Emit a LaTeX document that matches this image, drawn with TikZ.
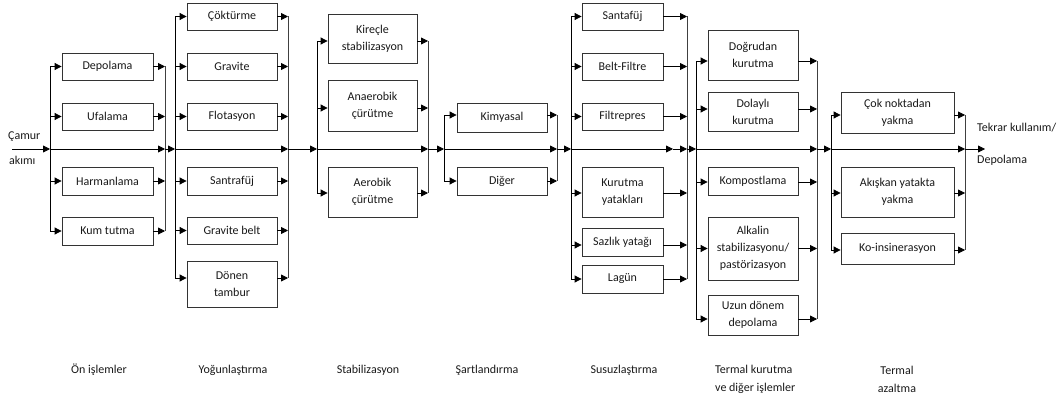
\documentclass[tikz,border=0pt]{standalone}
\usepackage{fontspec}
\setmainfont{Carlito}
\usetikzlibrary{arrows.meta}

\tikzset{
  box/.style={draw=black!80, line width=0.8pt, inner sep=1pt, align=center,
              font=\fontsize{12}{17}\selectfont, text=black!90},
  link/.style={draw=black, line width=0.8pt, -{Triangle[length=7pt,width=7pt]}},
  bar/.style={draw=black!75, line width=0.8pt},
  lbl/.style={font=\fontsize{12}{18}\selectfont, inner sep=0pt, text=black!90}
}

% \stagebox{name}{cx}{cy}{width}{height}{text}
\newcommand\stagebox[6]{\node[box, minimum width=#4pt, minimum height=#5pt] (#1) at (#2,#3) {#6};}
% \feed{split}{box}{merge}{yshift}: branch from split bar into box and on to merge bar
\newcommand\feed[4]{%
  \path ([yshift=#4pt]#2.west) coordinate (#2-i) ([yshift=#4pt]#2.east) coordinate (#2-o);
  \draw[link] (#1) |- (#2-i);
  \draw[link] (#2-o) -- (#2-o -| #3);
}

\begin{document}
\begin{tikzpicture}[x=1pt, y=-1pt]
\useasboundingbox (0,0) rectangle (1061,401);

% points on the main flow line
\coordinate (start) at (12,149);
\coordinate (s1) at (50,149);   \coordinate (m1) at (165,149);
\coordinate (s2) at (175,149);  \coordinate (m2) at (288,149);
\coordinate (s3) at (317,149);  \coordinate (m3) at (428,149);
\coordinate (s4) at (444,149);  \coordinate (m4) at (557,149);
\coordinate (s5) at (571,149);  \coordinate (k5) at (673,149);
\coordinate (m5) at (687,149);
\coordinate (s6) at (696,149);  \coordinate (m6) at (817,149);
\coordinate (s7) at (831,149);  \coordinate (m7) at (965,149);
\coordinate (finish) at (985,149);

% pre-treatment
\stagebox{dep}{107.5}{66.5}{91}{27}{Depolama}
\stagebox{ufa}{107.5}{116.5}{91}{27}{Ufalama}
\stagebox{har}{107.5}{181}{91}{28}{Harmanlama}
\stagebox{kum}{107.5}{231}{91}{28}{Kum tutma}

% thickening
\stagebox{cok}{232}{16.5}{90}{27}{Çöktürme}
\stagebox{grv}{232}{66.5}{90}{27}{Gravite}
\stagebox{flo}{232}{116.5}{90}{27}{Flotasyon}
\stagebox{snt}{232}{181}{90}{28}{Santrafüj}
\stagebox{gvb}{232}{230.5}{90}{27}{Gravite belt}
\stagebox{don}{232}{284}{90}{46}{Dönen\\tambur}

% stabilisation
\stagebox{kir}{372.5}{38.5}{89}{49}{Kireçle\\stabilizasyon}
\stagebox{ana}{372.5}{105.5}{89}{51}{Anaerobik\\çürütme}
\stagebox{aer}{372.5}{192}{89}{50}{Aerobik\\çürütme}

% conditioning
\stagebox{kim}{502}{117.5}{90}{29}{Kimyasal}
\stagebox{dig}{502}{181}{90}{28}{Diğer}

% dewatering
\stagebox{san}{622.5}{16.5}{81}{27}{Santafüj}
\stagebox{blt}{622.5}{66.5}{81}{27}{Belt-Filtre}
\stagebox{fil}{622.5}{116.5}{81}{27}{Filtrepres}
\stagebox{kur}{622.5}{192}{81}{50}{Kurutma\\yatakları}
\stagebox{saz}{622.5}{242}{81}{28}{Sazlık yatağı}
\stagebox{lag}{622.5}{279}{81}{28}{Lagün}

% thermal drying and other processes
\stagebox{dog}{753}{55}{90}{50}{Doğrudan\\kurutma}
\stagebox{dol}{753}{111.5}{90}{39}{Dolaylı\\kurutma}
\stagebox{kom}{753}{181}{90}{28}{Kompostlama}
\stagebox{alk}{753}{248.5}{90}{63}{Alkalin\\stabilizasyonu/\\pastörizasyon}
\stagebox{uzn}{753}{315}{90}{40}{Uzun dönem\\depolama}

% thermal reduction
\stagebox{cnk}{897.5}{112.5}{113}{41}{Çok noktadan\\yakma}
\stagebox{aky}{897.5}{192}{113}{50}{Akışkan yatakta\\yakma}
\stagebox{koi}{897.5}{248.5}{113}{31}{Ko-insinerasyon}

% branches
\feed{s1}{dep}{m1}{0} \feed{s1}{ufa}{m1}{0} \feed{s1}{har}{m1}{0} \feed{s1}{kum}{m1}{0}
\feed{s2}{cok}{m2}{0} \feed{s2}{grv}{m2}{0} \feed{s2}{flo}{m2}{0}
\feed{s2}{snt}{m2}{0} \feed{s2}{gvb}{m2}{0} \feed{s2}{don}{m2}{6}
\feed{s3}{kir}{m3}{-2.5} \feed{s3}{ana}{m3}{-2.5} \feed{s3}{aer}{m3}{-1}
\feed{s4}{kim}{m4}{2.5} \feed{s4}{dig}{m4}{0}
\feed{s5}{san}{m5}{0} \feed{s5}{blt}{m5}{0} \feed{s5}{fil}{m5}{0}
\feed{s5}{kur}{m5}{-1} \feed{s5}{saz}{m5}{-3} \feed{s5}{lag}{m5}{0}
\feed{s6}{dog}{m6}{-6} \feed{s6}{dol}{m6}{2.5} \feed{s6}{kom}{m6}{-1}
\feed{s6}{alk}{m6}{0} \feed{s6}{uzn}{m6}{-4}
\feed{s7}{cnk}{m7}{-2.5} \feed{s7}{aky}{m7}{-1} \feed{s7}{koi}{m7}{-1.5}

% merge bars
\draw[bar] (dep-o -| m1) -- (kum-o -| m1);
\draw[bar] (cok-o -| m2) -- (don-o -| m2);
\draw[bar] (kir-o -| m3) -- (aer-o -| m3);
\draw[bar] (kim-o -| m4) -- (dig-o -| m4);
\draw[bar] (san-o -| m5) -- (lag-o -| m5);
\draw[bar] (dog-o -| m6) -- (uzn-o -| m6);
\draw[bar] (cnk-o -| m7) -- (koi-o -| m7);

% main flow line
\draw[link] (start) -- (s1);
\draw[link] (s1) -- (m1);  \draw[link] (m1) -- (s2);
\draw[link] (s2) -- (m2);  \draw[link] (m2) -- (s3);
\draw[link] (s3) -- (m3);  \draw[link] (m3) -- (s4);
\draw[link] (s4) -- (m4);  \draw[link] (m4) -- (s5);
\draw[link] (s5) -- (k5);  \draw[link] (k5) -- (m5);  \draw[link] (m5) -- (s6);
\draw[link] (s6) -- (m6);  \draw[link] (m6) -- (s7);
\draw[link] (s7) -- (m7);  \draw[link] (m7) -- (finish);

% inlet and outlet texts
\node[lbl, anchor=west] (in1) at (8,137) {Çamur};
\node[lbl, anchor=west] (in2) at (9,160) {akımı};
\node[lbl, anchor=west] (out1) at (977,128) {Tekrar kullanım/};
\node[lbl, anchor=west] (out2) at (977,160) {Depolama};

% stage captions
\node[lbl] (c1) at (99,370) {Ön işlemler};
\node[lbl] (c2) at (233,370) {Yoğunlaştırma};
\node[lbl] (c3) at (368,370) {Stabilizasyon};
\node[lbl] (c4) at (487,370) {Şartlandırma};
\node[lbl] (c5) at (624,370) {Susuzlaştırma};
\node[lbl, align=left, anchor=west] (c6) at (715,379) {Termal kurutma\\ve diğer işlemler};
\node[lbl, align=center] (c7) at (897,379) {Termal\\azaltma};
\end{tikzpicture}
\end{document}
